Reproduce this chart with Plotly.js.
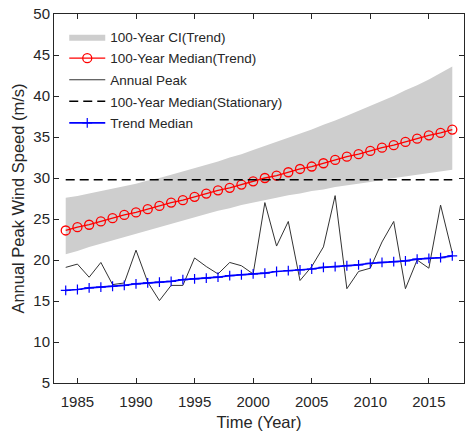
<!DOCTYPE html>
<html>
<head>
<meta charset="utf-8">
<script src="https://cdn.plot.ly/plotly-3.0.1.min.js"></script>
<style>
html,body{margin:0;padding:0;background:#fff;}
#chart{width:465px;height:433px;}
</style>
</head>
<body>
<div id="chart"></div>
<script>
var years = [1984,1985,1986,1987,1988,1989,1990,1991,1992,1993,1994,1995,1996,1997,1998,1999,2000,2001,2002,2003,2004,2005,2006,2007,2008,2009,2010,2011,2012,2013,2014,2015,2016,2017];
var annualPeak = [19.1,19.5,17.9,19.7,17.0,17.2,21.2,17.3,15.05,16.9,16.9,20.25,19.2,18.3,19.7,19.3,18.3,27.0,21.7,24.7,17.5,19.2,21.6,27.85,16.5,18.6,19.0,22.2,24.7,16.5,20.0,19.0,26.7,20.85];
var medianTrend = [23.6,24.0,24.3,24.7,25.1,25.5,25.8,26.2,26.6,27.0,27.3,27.7,28.1,28.5,28.8,29.2,29.6,30.0,30.3,30.7,31.1,31.4,31.8,32.2,32.6,32.9,33.3,33.7,34.0,34.4,34.8,35.2,35.5,35.9];
var trendMedian = [16.3,16.4,16.6,16.7,16.8,16.9,17.1,17.2,17.3,17.4,17.6,17.7,17.8,17.9,18.1,18.2,18.3,18.4,18.6,18.7,18.8,18.9,19.1,19.2,19.3,19.4,19.6,19.7,19.8,19.9,20.1,20.2,20.3,20.5];
var ciUpper = [27.6,27.8,28.1,28.4,28.7,29.0,29.3,29.7,30.0,30.4,30.8,31.2,31.6,32.0,32.5,32.9,33.4,33.9,34.4,34.9,35.4,35.9,36.5,37.0,37.6,38.2,38.8,39.4,40.0,40.7,41.3,42.0,42.8,43.6];
var ciLower = [20.7,21.1,21.6,22.0,22.4,22.8,23.2,23.6,24.0,24.4,24.8,25.2,25.6,26.0,26.3,26.7,27.0,27.3,27.6,27.9,28.1,28.4,28.6,28.9,29.1,29.3,29.5,29.8,30.0,30.2,30.4,30.6,30.8,31.0];
var stationaryYears = [1984, 2017];
var stationaryMedian = [29.8, 29.8];
var xTicks = [1985,1990,1995,2000,2005,2010,2015];
var yTicks = [5,10,15,20,25,30,35,40,45,50];

var bandX = years.concat(years.slice().reverse());
var bandY = ciUpper.concat(ciLower.slice().reverse());

var traces = [
  {x: bandX, y: bandY, type:'scatter', mode:'lines', fill:'toself', fillcolor:'#cecece',
   line:{width:0, color:'#cecece'}, name:'100-Year CI(Trend)', legendgroup:'a', hoverinfo:'skip'},
  {x: years, y: medianTrend, type:'scatter', mode:'lines+markers', name:'100-Year Median(Trend)', legendgroup:'b',
   line:{color:'#ff0000', width:1.3}, marker:{symbol:'circle-open', size:9, color:'#ff0000', line:{width:1.3}}},
  {x: years, y: annualPeak, type:'scatter', mode:'lines', name:'Annual Peak', legendgroup:'c',
   line:{color:'#333333', width:1}},
  {x: stationaryYears, y: stationaryMedian, type:'scatter', mode:'lines', name:'100-Year Median(Stationary)', legendgroup:'d',
   line:{color:'#000000', width:1.5, dash:'9px,5px'}},
  {x: years, y: trendMedian, type:'scatter', mode:'lines+markers', name:'Trend Median', legendgroup:'e',
   line:{color:'#0000ff', width:1.7}, marker:{symbol:'cross-thin-open', size:7, color:'#0000ff', line:{width:1.2, color:'#0000ff'}}}
];

var axisCommon = {
  showgrid:false, zeroline:false, showline:true, linecolor:'#262626', linewidth:1,
  mirror:'ticks', ticks:'inside', ticklen:5, tickwidth:1, tickcolor:'#262626',
  tickfont:{family:'Liberation Sans, Arial, sans-serif', size:15, color:'#262626'}
};

var layout = {
  width:465, height:433,
  margin:{l:54, r:1, t:14, b:50},
  paper_bgcolor:'#ffffff', plot_bgcolor:'#ffffff',
  font:{family:'Liberation Sans, Arial, sans-serif', color:'#262626'},
  showlegend:true,
  legend:{x:0.025, y:0.98, xanchor:'left', yanchor:'top', bgcolor:'rgba(0,0,0,0)',
          font:{size:13.5, color:'#262626'}, itemwidth:36, tracegroupgap:1, traceorder:'grouped'},
  xaxis: Object.assign({}, axisCommon, {
    range:[1983, 2018], tickvals:xTicks, ticktext:xTicks.map(String), ticklabelstandoff:5,
    title:{text:'Time (Year)', font:{size:16.5, color:'#262626'}, standoff:7}
  }),
  yaxis: Object.assign({}, axisCommon, {
    range:[5, 50], tickvals:yTicks, ticktext:yTicks.map(String),
    title:{text:'Annual Peak Wind Speed (m/s)', font:{size:16.5, color:'#262626'}, standoff:4}
  })
};

Plotly.newPlot('chart', traces, layout, {displayModeBar:false, staticPlot:true});
</script>
</body>
</html>
